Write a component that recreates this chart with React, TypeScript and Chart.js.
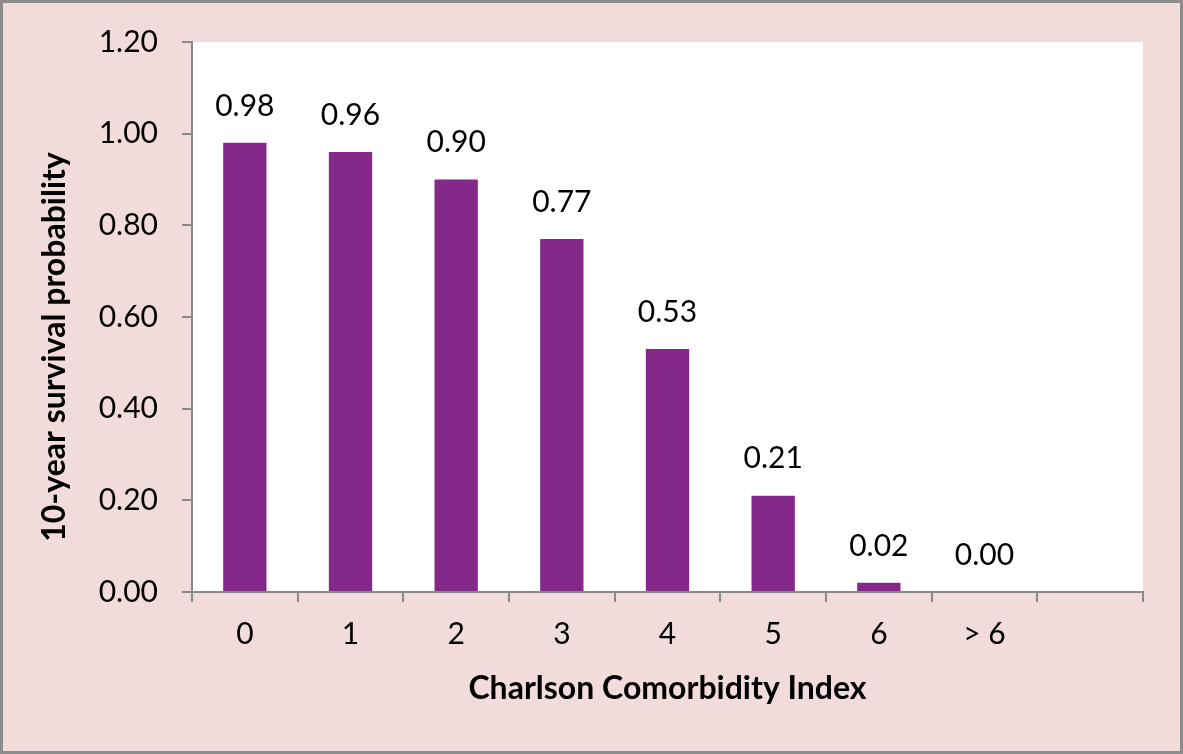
import React, { useEffect, useRef } from "react";
import { Chart, registerables } from "chart.js";

Chart.register(...registerables);

const categories = ["0", "1", "2", "3", "4", "5", "6", "> 6", ""];
const survival: (number | null)[] = [0.98, 0.96, 0.9, 0.77, 0.53, 0.21, 0.02, 0.0, null];
const yTicks = [0, 0.2, 0.4, 0.6, 0.8, 1.0, 1.2];
const xTitle = "Charlson Comorbidity Index";
const yTitle = "10-year survival probability";

const FONT = "Lato, 'Open Sans', sans-serif";
const BG = "#f2dcdb";
const BAR = "#84288a";
const AXIS = "#898989";

const bgPlugin = {
  id: "bgPlugin",
  beforeDraw(chart: any) {
    const { ctx, width, height, chartArea } = chart;
    ctx.save();
    ctx.fillStyle = BG;
    ctx.fillRect(0, 0, width, height);
    ctx.fillStyle = "#ffffff";
    ctx.fillRect(chartArea.left, chartArea.top, chartArea.right - chartArea.left, chartArea.bottom - chartArea.top);
    ctx.strokeStyle = "#8c8c8c";
    ctx.lineWidth = 3;
    ctx.strokeRect(1.5, 1.5, width - 3, height - 3);
    ctx.restore();
  },
};

const labelPlugin = {
  id: "labelPlugin",
  afterDatasetsDraw(chart: any) {
    const { ctx } = chart;
    const meta = chart.getDatasetMeta(0);
    ctx.save();
    ctx.font = `30px ${FONT}`;
    ctx.fillStyle = "#000";
    ctx.textAlign = "center";
    ctx.textBaseline = "middle";
    meta.data.forEach((el: any, i: number) => {
      const v = survival[i];
      if (v === null || v === undefined) return;
      ctx.fillText(v.toFixed(2), el.x, el.y - 37);
    });
    // y-axis title
    ctx.font = `bold 32px ${FONT}`;
    ctx.translate(55, 347);
    ctx.rotate(-Math.PI / 2);
    ctx.fillText(yTitle, 0, 0);
    ctx.restore();
  },
};

export default function App() {
  const ref = useRef<HTMLCanvasElement | null>(null);
  useEffect(() => {
    document.body.style.margin = "0";
    const canvas = ref.current!;
    const chart = new Chart(canvas, {
      type: "bar",
      data: {
        labels: categories,
        datasets: [
          {
            data: survival,
            backgroundColor: BAR,
            borderWidth: 0,
            categoryPercentage: 1,
            barPercentage: 0.41,
          },
        ],
      },
      options: {
        animation: false,
        responsive: false,
        devicePixelRatio: 1,
        layout: { padding: { left: 0, right: 40, top: 40, bottom: 0 } },
        plugins: { legend: { display: false }, tooltip: { enabled: false } },
        scales: {
          x: {
            grid: { display: true, drawOnChartArea: false, drawTicks: true, tickLength: 10, color: AXIS, lineWidth: 2, offset: true },
            border: { display: true, color: AXIS, width: 2 },
            ticks: { color: "#000", font: { family: FONT, size: 30 }, padding: 14, maxRotation: 0, autoSkip: false },
            title: { display: true, text: xTitle, color: "#000", font: { family: FONT, size: 32, weight: "bold" }, padding: { top: 0, bottom: 46 } },
            afterFit: (s: any) => { s.height = 162; },
          },
          y: {
            min: 0,
            max: 1.2,
            afterBuildTicks: (s: any) => { s.ticks = yTicks.map((v) => ({ value: v })); },
            grid: { display: true, drawOnChartArea: false, drawTicks: true, tickLength: 10, color: AXIS, lineWidth: 2 },
            border: { display: true, color: AXIS, width: 2 },
            ticks: { color: "#000", font: { family: FONT, size: 30 }, padding: 24, callback: (v: any) => Number(v).toFixed(2) },
            afterFit: (s: any) => { s.width = 192; },
          },
        },
      },
      plugins: [bgPlugin, labelPlugin],
    });
    return () => chart.destroy();
  }, []);
  return (
    <div style={{ width: 1183, height: 754 }}>
      <canvas ref={ref} width={1183} height={754} style={{ display: "block", width: 1183, height: 754 }} />
    </div>
  );
}
